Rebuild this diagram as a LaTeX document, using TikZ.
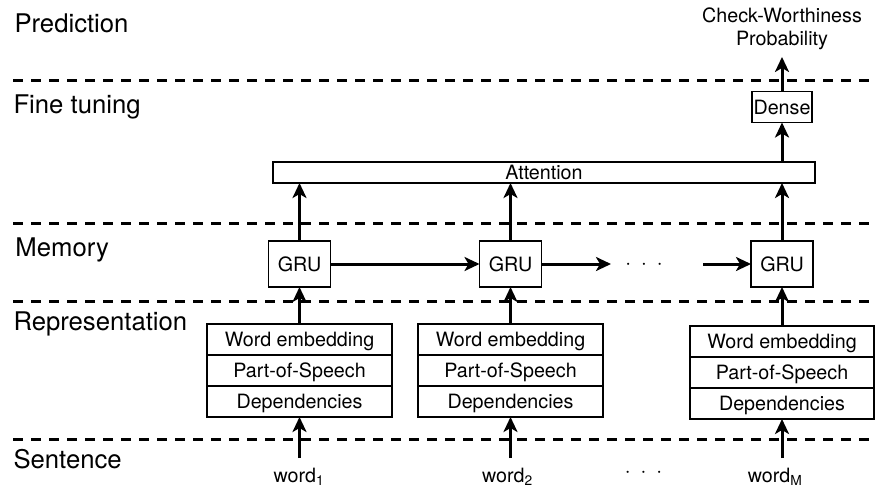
\documentclass[tikz,border=0pt]{standalone}
\usepackage{fontspec}
\setmainfont{TeX Gyre Heros}
\usepackage{tikz}
\usetikzlibrary{arrows.meta, positioning}

\newcommand{\lyrfont}{\fontsize{25.7}{30}\selectfont}
\newcommand{\txtfont}{\fontsize{19.7}{23.5}\selectfont}

\begin{document}
\begin{tikzpicture}[
	x=1pt, y=-1pt,
	>={Stealth[length=15pt,width=14pt,inset=4pt]},
	line width=3pt
]
\useasboundingbox (0,0) rectangle (879,491);

\tikzstyle{layer}=[anchor=base west, inner sep=0pt, font=\lyrfont]
\tikzstyle{sep}=[dash pattern=on 10pt off 8pt]
\tikzstyle{box}=[draw, line width=1.5pt, inner sep=0pt, outer sep=0pt, text height=14pt, text depth=0pt, font=\txtfont]
\tikzstyle{row}=[box, minimum width=185, minimum height=31]
\tikzstyle{gru}=[box, minimum width=62, minimum height=46]
\tikzstyle{word}=[anchor=base, inner sep=0pt, outer ysep=9.5pt, font=\txtfont]
\tikzstyle{dots}=[anchor=base, inner sep=0pt, font=\txtfont]

% layers
\node[layer] (lpred) at (13,32) {Prediction};
\node[layer] (ltune) at (12,113) {Fine tuning};
\node[layer] (lmem) at (14,256) {Memory};
\node[layer] (lrep) at (12,330) {Representation};
\node[layer] (lsent) at (12,468) {Sentence};

\draw[sep] (13,80) -- (872,80);
\draw[sep] (13,223) -- (872,223);
\draw[sep] (13,301) -- (872,301);
\draw[sep] (13,439) -- (872,439);

% representation
\node[row] (emb1) at (299.5,339.5) {Word embedding};
\node[row] (pos1) [below=0pt of emb1] {Part-of-Speech};
\node[row] (dep1) [below=0pt of pos1] {Dependencies};
\node[row] (emb2) at (510.5,339.5) {Word embedding};
\node[row] (pos2) [below=0pt of emb2] {Part-of-Speech};
\node[row] (dep2) [below=0pt of pos2] {Dependencies};
\node[row, minimum width=184] (emb3) at (782,341.5) {Word embedding};
\node[row, minimum width=184] (pos3) [below=0pt of emb3] {Part-of-Speech};
\node[row, minimum width=184] (dep3) [below=0pt of pos3] {Dependencies};

% sentence
\node[word] (word1) at (299,482) {word\textsubscript{1}};
\node[word] (word2) at (507.5,482) {word\textsubscript{2}};
\node[word] (wordM) at (775,482) {word\textsubscript{M}};
\node[dots] (sdots) at (643.5,477) {$\cdot$\hspace{10pt}$\cdot$\hspace{10pt}$\cdot$};

% memory
\node[gru] (gru1) at (299.5,264) {GRU};
\node[gru] (gru2) at (510.5,264) {GRU};
\node[gru] (gru3) at (782,264) {GRU};
\coordinate (m1) at (611,264);
\coordinate (m2) at (703,264);
\node[dots] (mdots) at (644,269) {$\cdot$\hspace{10pt}$\cdot$\hspace{10pt}$\cdot$};

% fine tuning + prediction
\node[box, minimum width=542, minimum height=21] (att) at (544,172.5) {Attention};
\node[box, minimum width=60, minimum height=31] (dense) at (782,107) {Dense};
\node[align=center, inner sep=0pt, outer ysep=7pt, font=\txtfont] (prob) at (782,28.7) {Check-Worthiness\\Probability};

\draw[->] (word1.north -| dep1) -- (dep1);
\draw[->] (word2.north -| dep2) -- (dep2);
\draw[->] (wordM.north -| dep3) -- (dep3);
\draw[->] (emb1) -- (gru1);
\draw[->] (emb2) -- (gru2);
\draw[->] (emb3) -- (gru3);
\draw[->] (gru1) -- (gru2);
\draw[->] (gru2) -- (m1);
\draw[->] (m2) -- (gru3);
\draw[->] (gru1) -- (gru1 |- att.south);
\draw[->] (gru2) -- (gru2 |- att.south);
\draw[->] (gru3) -- (gru3 |- att.south);
\draw[->] (att.north -| dense) -- (dense);
\draw[->] (dense) -- (prob);
\end{tikzpicture}
\end{document}
